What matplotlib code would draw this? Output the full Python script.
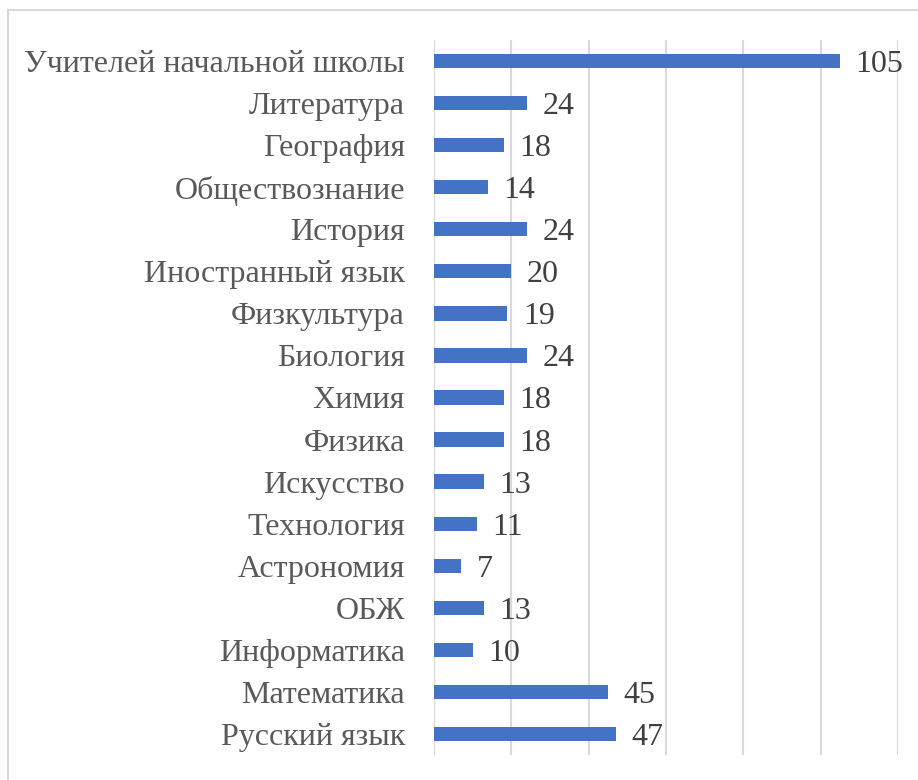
import matplotlib
matplotlib.use("Agg")
import matplotlib.pyplot as plt
from matplotlib.patches import Rectangle

categories = ["Учителей начальной школы", "Литература", "География", "Обществознание",
              "История", "Иностранный язык", "Физкультура", "Биология", "Химия", "Физика",
              "Искусство", "Технология", "Астрономия", "ОБЖ", "Информатика", "Математика",
              "Русский язык"]
values = [105, 24, 18, 14, 24, 20, 19, 24, 18, 18, 13, 11, 7, 13, 10, 45, 47]
x_ticks = [0, 20, 40, 60, 80, 100, 120]

plt.rcParams['font.family'] = ['Liberation Serif', 'DejaVu Serif']

fig = plt.figure(figsize=(9.18, 7.8), dpi=100)
# outer frame
fig.patches.append(Rectangle((8/918, -0.01), 1.02, 1 - 10/780 + 0.01, transform=fig.transFigure,
                             fill=False, edgecolor='#d9d9d9', linewidth=1.5))
ax = fig.add_axes([434/918, 1 - 755/780, (898-434)/918, (755-40)/780])

n = len(categories)
ypos = list(range(n))
ax.barh(ypos, values, height=0.34, color='#4472c4', zorder=3)
ax.set_ylim(n - 0.5, -0.5)
ax.set_xlim(0, 120)
ax.set_xticks(x_ticks)
ax.xaxis.grid(True, color='#d9d9d9', linewidth=1.5, zorder=0)
ax.tick_params(axis='x', length=0, labelbottom=False)
ax.tick_params(axis='y', length=0, pad=21)
ax.set_yticks(ypos)
ax.set_yticklabels(categories, fontsize=23, color='#595959')
for s in ax.spines.values():
    s.set_visible(False)
ax.axvline(0, color='#d9d9d9', linewidth=1.5, zorder=1)

for y, v in zip(ypos, values):
    ax.text(v + 4, y, str(v), va='center_baseline', ha='left', fontsize=23, color='#404040')

fig.savefig("out.png", dpi=100)
